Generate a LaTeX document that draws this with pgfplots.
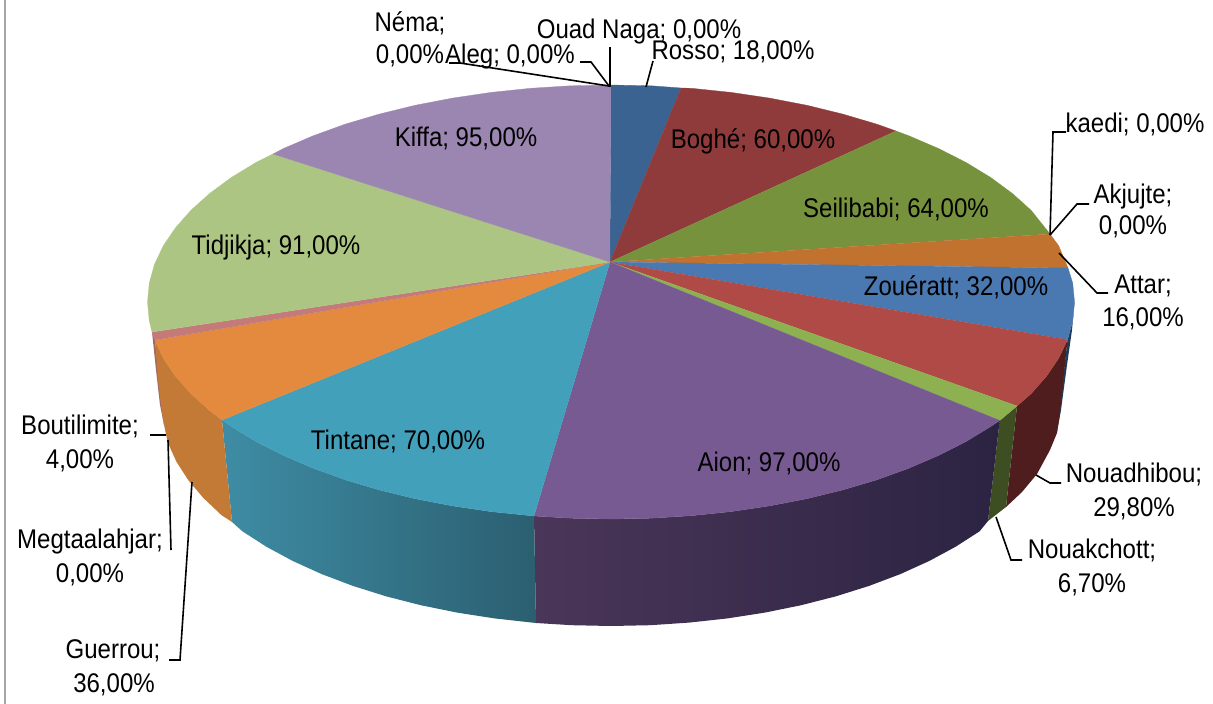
\documentclass[border=0pt]{standalone}
\usepackage{fontspec}
\setmainfont[FakeStretch=0.89]{Liberation Sans}
\usepackage{pgfplots}
\pgfplotsset{compat=1.18}

\definecolor{rosso}{HTML}{3A6391}
\definecolor{boghe}{HTML}{8F3B3B}
\definecolor{seili}{HTML}{77923D}
\definecolor{attar}{HTML}{C1722F}
\definecolor{zouer}{HTML}{4A78B0}
\definecolor{nouad}{HTML}{B04A47}
\definecolor{nouak}{HTML}{8DB151}
\definecolor{aion}{HTML}{775A92}
\definecolor{tint}{HTML}{43A0BA}
\definecolor{guerr}{HTML}{E38A3E}
\definecolor{bouti}{HTML}{C57A7A}
\definecolor{tidji}{HTML}{ADC582}
\definecolor{kiffa}{HTML}{9B86B1}
% side walls
\definecolor{zwall}{HTML}{1E3C5A}
\definecolor{nwall}{HTML}{4F1D1D}
\definecolor{kwall}{HTML}{3D4F22}
\definecolor{aionL}{HTML}{4A3658}
\definecolor{aionR}{HTML}{2C2342}
\definecolor{tintL}{HTML}{3E8CA4}
\definecolor{tintR}{HTML}{2B5F70}
\definecolor{gwall}{HTML}{C27A36}

\newcommand{\lab}[3]{\node[anchor=base,inner sep=0pt] at (axis cs:#1,#2) {#3};}
\tikzset{lead/.style={black,line width=1.6pt,line join=miter}}

\begin{document}
\begin{tikzpicture}
\useasboundingbox (0,0) rectangle (1213pt,704pt);
\begin{axis}[at={(0,0)},anchor=south west,
  width=1213pt,height=704pt,scale only axis,
  xmin=0,xmax=1213,ymin=0,ymax=704,y dir=reverse,
  hide axis,clip=false,no markers,
  font=\fontsize{27}{33}\selectfont]

% frame line on the left
\addplot[draw=black!35,line width=2.5pt] coordinates {(5,0)(5,704)};

% ---------- side walls ----------
\addplot[fill=zwall,draw=none] coordinates {
  (1074.5,302)(1072.7,321)(1067.5,340)(1057,432)(1061,410)(1067,365)(1072,330)};
\addplot[fill=bouti!85!black,draw=none] coordinates {
  (152,332)(155,340)(164,425)(160,405)(156,370)};
\addplot[fill=nwall,draw=none] coordinates {
  (1067.5,339.7)(1058.7,358.2)(1046.5,376.2)(1031.1,393.7)(1017,406)
  (1006,507)(1022,492)(1037,474)(1050,450)(1057,433)(1060,413)};
\addplot[fill=kwall,draw=none] coordinates {
  (1017,406)(999.7,420.5)(988,521)(1006,507)};
\addplot[left color=aionL,right color=aionR,draw=none] coordinates {
  (999.7,420.5)(990.7,426.5)(966.1,441.5)(938.7,455.4)(908.9,468.2)(876.9,479.8)
  (842.8,489.9)(806.9,498.7)(769.5,505.9)(731,511.6)(691.5,515.7)(651.4,518.2)
  (611,519)(570.6,518.2)(534,516)
  (536,623)(571.8,625.2)(611,626)(650.2,625.2)(689.1,622.6)(727.5,618.4)
  (764.9,612.6)(801.2,605.2)(836,596.3)(869.1,585.9)(900.3,574.1)(929.2,561)
  (955.7,546.7)(979.6,531.3)(988,521)};
\addplot[left color=tintL,right color=tintR,draw=none] coordinates {
  (534,516)(491,511.6)(452.5,505.9)(415.1,498.7)(379.2,489.9)(345.1,479.8)
  (313.1,468.2)(283.3,455.4)(255.9,441.5)(231.3,426.5)(222,420)
  (232,522)(242.4,531.3)(266.3,546.7)(292.8,561)(321.7,574.1)(352.9,585.9)
  (386,596.3)(420.8,605.2)(457.1,612.6)(494.5,618.4)(536,623)};
\addplot[fill=gwall,draw=none] coordinates {
  (222,420)(209.6,410.5)(190.9,393.7)(175.5,376.2)(163.3,358.2)(155,340)
  (158,380)(163,420)(167.8,442.6)(176.3,461.5)(188.1,479.9)(203.2,497.8)(221.3,515)(232,522)};

% ---------- top of the pie, clockwise from Rosso ----------
\addplot[fill=rosso,draw=rosso,line width=.3pt] coordinates {
  (610,262)(611,85)(651.4,85.8)(681,88)};
\addplot[fill=boghe,draw=boghe,line width=.3pt] coordinates {
  (610,262)(681,88)(691.5,88.3)(731,92.4)(769.5,98.1)(806.9,105.3)(842.8,114.1)(876.9,124.2)(896,131)};
\addplot[fill=seili,draw=seili,line width=.3pt] coordinates {
  (610,262)(896,131)(908.9,135.8)(938.7,148.6)(966.1,162.5)(990.7,177.5)(1012.4,193.5)(1031.1,210.3)(1050,234)};
\addplot[fill=attar,draw=attar,line width=.3pt] coordinates {
  (610,262)(1050,234)(1058.7,245.8)(1068,268)};
\addplot[fill=zouer,draw=zouer,line width=.3pt] coordinates {
  (610,262)(1068,268)(1072.7,283.1)(1074.5,302)(1072.7,320.9)(1067.5,339.7)};
\addplot[fill=nouad,draw=nouad,line width=.3pt] coordinates {
  (610,262)(1067.5,339.7)(1058.7,358.2)(1046.5,376.2)(1031.1,393.7)(1017,406)};
\addplot[fill=nouak,draw=nouak,line width=.3pt] coordinates {
  (610,262)(1017,406)(999.7,420.5)};
\addplot[fill=aion,draw=aion,line width=.3pt] coordinates {
  (610,262)(999.7,420.5)(990.7,426.5)(966.1,441.5)(938.7,455.4)(908.9,468.2)(876.9,479.8)
  (842.8,489.9)(806.9,498.7)(769.5,505.9)(731,511.6)(691.5,515.7)(651.4,518.2)
  (611,519)(570.6,518.2)(534,516)};
\addplot[fill=tint,draw=tint,line width=.3pt] coordinates {
  (610,262)(534,516)(491,511.6)(452.5,505.9)(415.1,498.7)(379.2,489.9)(345.1,479.8)
  (313.1,468.2)(283.3,455.4)(255.9,441.5)(231.3,426.5)(222,420)};
\addplot[fill=guerr,draw=guerr,line width=.3pt] coordinates {
  (610,262)(222,420)(209.6,410.5)(190.9,393.7)(175.5,376.2)(163.3,358.2)(155,340)};
\addplot[fill=bouti,draw=bouti,line width=.3pt] coordinates {
  (610,262)(155,340)(152,332)};
\addplot[fill=tidji,draw=tidji,line width=.3pt] coordinates {
  (610,262)(152,332)(149.3,320.9)(147.5,302)(149.3,283.1)(154.5,264.3)(163.3,245.8)
  (175.5,227.8)(190.9,210.3)(209.6,193.5)(231.3,177.5)(255.9,162.5)(273,154)};
\addplot[fill=kiffa,draw=kiffa,line width=.3pt] coordinates {
  (610,262)(273,154)(283.3,148.6)(313.1,135.8)(345.1,124.2)(379.2,114.1)(415.1,105.3)
  (452.5,98.1)(491,92.4)(530.5,88.3)(570.6,85.8)(611,85)};

% ---------- leader lines ----------
\addplot[lead] coordinates {(610,47)(610,87)};
\addplot[lead] coordinates {(580,62)(591,62)(609,86)};
\addplot[lead] coordinates {(449,63)(460,63)(609,86)};
\addplot[lead] coordinates {(653,61)(646,87)};
\addplot[lead] coordinates {(1066,132)(1053,132)(1050,235)};
\addplot[lead] coordinates {(1089,204)(1077,204)(1050,235)};
\addplot[lead] coordinates {(1108,293)(1097,293)(1059,253)};
\addplot[lead] coordinates {(1061,483)(1050,483)(1036,475)};
\addplot[lead] coordinates {(1022,560)(1011,560)(996,517)};
\addplot[lead] coordinates {(150,435)(166,435)};
\addplot[lead] coordinates {(168,440)(171,550)};
\addplot[lead] coordinates {(169,660)(180,660)(192,482)};

% ---------- labels ----------
\lab{410}{31}{Néma;}
\lab{410}{63}{0,00\%}
\lab{639}{38}{Ouad Naga; 0,00\%}
\lab{510}{63}{Aleg; 0,00\%}
\lab{733}{59}{Rosso; 18,00\%}
\lab{753}{148}{Boghé; 60,00\%}
\lab{466}{146}{Kiffa; 95,00\%}
\lab{896}{217}{Seilibabi; 64,00\%}
\lab{1135}{132}{kaedi; 0,00\%}
\lab{1133}{203}{Akjujte;}
\lab{1133}{234}{0,00\%}
\lab{1143}{293}{Attar;}
\lab{1143}{326}{16,00\%}
\lab{956}{295}{Zouératt; 32,00\%}
\lab{276}{254}{Tidjikja; 91,00\%}
\lab{398}{449}{Tintane; 70,00\%}
\lab{769}{471}{Aion; 97,00\%}
\lab{1134}{482}{Nouadhibou;}
\lab{1134}{516}{29,80\%}
\lab{1092}{558}{Nouakchott;}
\lab{1092}{592}{6,70\%}
\lab{80}{434}{Boutilimite;}
\lab{80}{468}{4,00\%}
\lab{90}{548}{Megtaalahjar;}
\lab{90}{582}{0,00\%}
\lab{113}{658}{Guerrou;}
\lab{114}{692}{36,00\%}
\end{axis}
\end{tikzpicture}
\end{document}
